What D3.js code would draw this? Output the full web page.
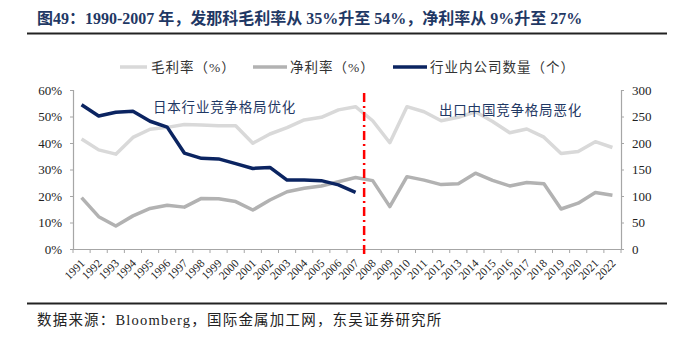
<!DOCTYPE html>
<html><head><meta charset="utf-8">
<script src="https://cdn.jsdelivr.net/npm/d3@7/dist/d3.min.js"></script>
<style>
body{margin:0;background:#fff;}
svg{display:block;}
</style></head>
<body>
<svg id="chart" width="676" height="338"></svg>
<script>
const years = ["1991","1992","1993","1994","1995","1996","1997","1998","1999","2000","2001","2002","2003","2004","2005","2006","2007","2008","2009","2010","2011","2012","2013","2014","2015","2016","2017","2018","2019","2020","2021","2022"];
const grossMargin = [41.5,37.4,35.8,42.1,45.2,45.9,47.0,46.8,46.5,46.5,39.9,43.4,45.8,48.7,49.7,52.5,53.7,48.4,40.1,53.7,51.8,48.4,49.7,51.8,48.1,43.9,45.3,42.2,36.0,36.8,40.5,38.3];
const netMargin = [19.4,12.2,8.7,12.5,15.3,16.5,15.8,19.1,19.0,17.9,14.7,18.5,21.6,22.9,23.8,25.4,27.0,25.8,16.0,27.3,26.0,24.3,24.6,28.6,25.9,23.8,25.1,24.6,15.1,17.3,21.3,20.3];
const companyYears = years.slice(0,17);
const companyCount = [272,251,258,260,241,230,181,171,170,161,152,154,130,130,129,121,107];
const leftTicks = [0,10,20,30,40,50,60];
const rightTicks = [0,50,100,150,200,250,300];
const splitYear = "2008";
const seriesNames = ["毛利率（%）","净利率（%）","行业内公司数量（个）"];
const titleText = "图49：1990-2007 年，发那科毛利率从 35%升至 54%，净利率从 9%升至 27%";
const sourceText = "数据来源：Bloomberg，国际金属加工网，东吴证券研究所";
const noteLeft = "日本行业竞争格局优化";
const noteRight = "出口中国竞争格局恶化";

const FONT = "'Liberation Serif','Times New Roman','Noto Sans CJK SC',serif";
const colGross = "#d9d9d9", colNet = "#b2b2b2", colCount = "#0b2461";
const svg = d3.select("#chart");

const L = 73, R = 621, T = 90, B = 249;
const x = d3.scaleBand().domain(years).range([L, R]).padding(0);
const cx = d => x(d) + x.bandwidth()/2;
const yL = d3.scaleLinear().domain([0,60]).range([B, T]);
const yR = d3.scaleLinear().domain([0,300]).range([B, T]);

// title
svg.append("text").attr("x",37).attr("y",24).attr("font-family",FONT).attr("font-weight","bold")
  .attr("font-size",16).attr("fill","#1f3864").text(titleText);
svg.append("line").attr("x1",27).attr("x2",667).attr("y1",33.5).attr("y2",33.5).attr("stroke","#222").attr("stroke-width",2);

// legend
const legend = [
  {name:seriesNames[0], c:colGross, x1:120, x2:147, tx:151},
  {name:seriesNames[1], c:colNet, x1:253, x2:287, tx:290},
  {name:seriesNames[2], c:colCount, x1:393, x2:427, tx:430}
];
legend.forEach(l=>{
  svg.append("line").attr("x1",l.x1).attr("x2",l.x2).attr("y1",67).attr("y2",67).attr("stroke",l.c).attr("stroke-width",3.5);
  svg.append("text").attr("x",l.tx).attr("y",72).attr("font-family",FONT).attr("font-size",13.5)
    .attr("letter-spacing",1).attr("fill","#333").text(l.name);
});

// axes
const axisColor = "#a6a6a6";
const gL = svg.append("g").attr("transform",`translate(${L},0)`)
  .call(d3.axisLeft(yL).tickValues(leftTicks).tickFormat(d=>d+"%").tickSize(3).tickPadding(8));
const gR = svg.append("g").attr("transform",`translate(${R},0)`)
  .call(d3.axisRight(yR).tickValues(rightTicks).tickSize(3).tickPadding(8));
const gB = svg.append("g").attr("transform",`translate(0,${B})`)
  .call(d3.axisBottom(x).tickSize(0).tickFormat(d=>d));
[gL,gR,gB].forEach(g=>{
  g.select(".domain").attr("stroke",axisColor).attr("stroke-width",1.2);
  g.selectAll(".tick line").attr("stroke",axisColor);
  g.selectAll("text").attr("font-family",FONT).attr("font-size",13).attr("fill","#222");
});
gB.selectAll(".tick text").attr("font-size",11.5)
  .attr("text-anchor","end").attr("dy",0).attr("x",0).attr("y",0)
  .attr("transform","translate(4,15) rotate(-45)");
// bottom tick marks at band boundaries
const boundaries = years.map(d=>x(d)).concat([R]);
svg.append("g").selectAll("line").data(boundaries).join("line")
  .attr("x1",d=>d).attr("x2",d=>d).attr("y1",B).attr("y2",B+4).attr("stroke",axisColor);

// lines
const lineL = d3.line().x((d,i)=>cx(years[i])).y(d=>yL(d));
svg.append("path").datum(grossMargin).attr("d",lineL).attr("fill","none").attr("stroke",colGross).attr("stroke-width",3.5).attr("stroke-linejoin","round");
svg.append("path").datum(netMargin).attr("d",lineL).attr("fill","none").attr("stroke",colNet).attr("stroke-width",3.5).attr("stroke-linejoin","round");
const lineC = d3.line().x((d,i)=>cx(companyYears[i])).y(d=>yR(d));
svg.append("path").datum(companyCount).attr("d",lineC).attr("fill","none").attr("stroke",colCount).attr("stroke-width",3.5).attr("stroke-linejoin","round");

// split line
const sx = x(splitYear);
svg.append("line").attr("x1",sx).attr("x2",sx).attr("y1",T+3).attr("y2",B+5)
  .attr("stroke","#ff0000").attr("stroke-width",2.5).attr("stroke-dasharray","9,4,2,4");

// notes
svg.append("text").attr("x",153).attr("y",111.5).attr("font-family",FONT).attr("font-size",13.5)
  .attr("letter-spacing",0.8).attr("fill","#1f3864").text(noteLeft);
svg.append("text").attr("x",439).attr("y",114.5).attr("font-family",FONT).attr("font-size",13.5)
  .attr("letter-spacing",0.8).attr("fill","#1f3864").text(noteRight);

// footer
svg.append("line").attr("x1",27).attr("x2",667).attr("y1",303.5).attr("y2",303.5).attr("stroke","#222").attr("stroke-width",2);
svg.append("text").attr("x",37).attr("y",325).attr("font-family",FONT).attr("font-size",14.5)
  .attr("letter-spacing",1.2).attr("fill","#222").text(sourceText);
</script>
</body></html>
